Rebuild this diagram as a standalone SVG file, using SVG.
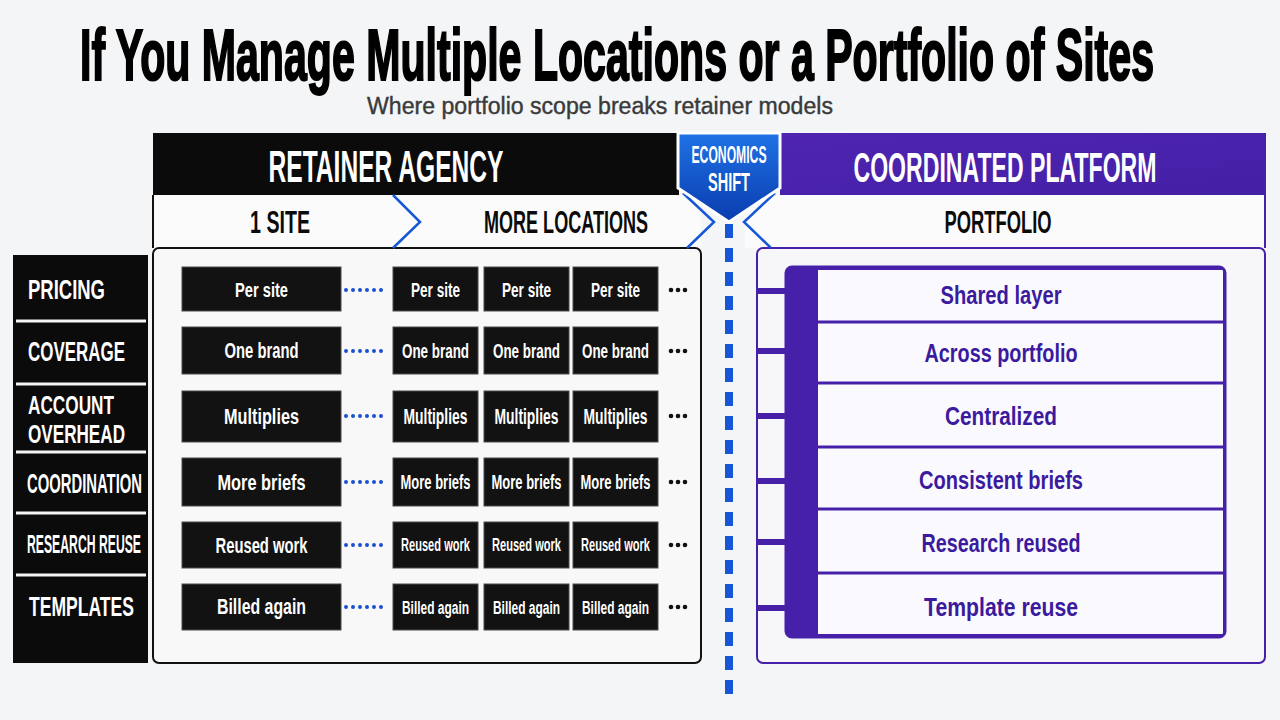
<svg xmlns="http://www.w3.org/2000/svg" width="1280" height="720" viewBox="0 0 1280 720">
<defs>
<linearGradient id="badgeG" x1="0" y1="0" x2="0" y2="1">
<stop offset="0" stop-color="#1f72e6"/>
<stop offset="1" stop-color="#0a3cae"/>
</linearGradient>
<linearGradient id="purG" x1="0" y1="0" x2="1" y2="1">
<stop offset="0" stop-color="#4e24b0"/>
<stop offset="1" stop-color="#4420a6"/>
</linearGradient>
<style>
.t{font-family:"Liberation Sans",Arial,sans-serif;font-weight:700}
.hw{fill:#ffffff;text-anchor:middle}
.hb{fill:#0b0b0b;text-anchor:middle}
.lab{fill:#ffffff}
.cell{fill:#121212;stroke:#4a4a4a;stroke-width:1}
.ct{fill:#ffffff;text-anchor:middle}
.pt{fill:#3b1a9e;text-anchor:middle}
.dot{stroke:#1a4fd0;stroke-width:4;stroke-linecap:round;stroke-dasharray:0 7}
.ell{fill:#111}
.tick{fill:#4620a8}
.chev{fill:none;stroke:#1557d6;stroke-width:2.5}
.sep{stroke:#4620a8;stroke-width:3}
</style>
</defs>
<rect x="0" y="0" width="1280" height="720" fill="#f4f5f7"/>

<g id="title">
<text class="t" transform="translate(617,80) scale(1,1.77)" font-size="41" text-anchor="middle" fill="#000" stroke="#000" stroke-width="1.2" textLength="1074" lengthAdjust="spacingAndGlyphs">If You Manage Multiple Locations or a Portfolio of Sites</text>
<text x="600" y="114" font-family="'Liberation Sans',Arial,sans-serif" font-size="23" text-anchor="middle" fill="#3a3a3a" stroke="#3a3a3a" stroke-width="0.4" textLength="466" lengthAdjust="spacingAndGlyphs">Where portfolio scope breaks retainer models</text>
</g>

<g id="retainer-header">
<rect x="153" y="133" width="526" height="62" fill="#0b0b0b"/>
<text class="t hw" transform="translate(386,182) scale(1,1.88)" font-size="23.7" textLength="235" lengthAdjust="spacingAndGlyphs">RETAINER AGENCY</text>
<rect x="153" y="195" width="548" height="53" fill="#fbfbfc"/>
<line x1="153" y1="195" x2="153" y2="248" stroke="#111" stroke-width="2"/>
<text class="t hb" transform="translate(280,233) scale(1,1.64)" font-size="19.6" textLength="60" lengthAdjust="spacingAndGlyphs">1 SITE</text>
<text class="t hb" transform="translate(566,233) scale(1,1.8)" font-size="17.5" textLength="164" lengthAdjust="spacingAndGlyphs">MORE LOCATIONS</text>
</g>

<g id="platform-header">
<rect x="780" y="133" width="485" height="62" fill="url(#purG)"/>
<text class="t hw" transform="translate(1005,182) scale(1,1.97)" font-size="22" textLength="303" lengthAdjust="spacingAndGlyphs">COORDINATED PLATFORM</text>
<rect x="745" y="195" width="520" height="53" fill="#fbfbfc"/>
<line x1="1265" y1="133" x2="1265" y2="248" stroke="#4620a8" stroke-width="2"/>
<text class="t hb" transform="translate(998,233) scale(1,1.72)" font-size="18.3" textLength="107" lengthAdjust="spacingAndGlyphs">PORTFOLIO</text>
</g>

<g id="labels">
<rect x="13" y="255" width="135" height="408" fill="#0b0b0b"/>
<g stroke="#f4f5f7" stroke-width="3">
<line x1="16" y1="321" x2="146" y2="321"/>
<line x1="16" y1="384" x2="146" y2="384"/>
<line x1="16" y1="452" x2="146" y2="452"/>
<line x1="16" y1="513" x2="146" y2="513"/>
<line x1="16" y1="575" x2="146" y2="575"/>
</g>
<text class="t lab" transform="translate(28,299) scale(1,1.51)" font-size="18.5" textLength="77" lengthAdjust="spacingAndGlyphs">PRICING</text>
<text class="t lab" transform="translate(28,361) scale(1,1.64)" font-size="17" textLength="97" lengthAdjust="spacingAndGlyphs">COVERAGE</text>
<text class="t lab" transform="translate(28,414) scale(1,1.54)" font-size="17.2" textLength="86" lengthAdjust="spacingAndGlyphs">ACCOUNT</text>
<text class="t lab" transform="translate(28,443) scale(1,1.55)" font-size="17.1" textLength="97" lengthAdjust="spacingAndGlyphs">OVERHEAD</text>
<text class="t lab" transform="translate(27,493) scale(1,1.9)" font-size="14.7" textLength="115" lengthAdjust="spacingAndGlyphs">COORDINATION</text>
<text class="t lab" transform="translate(27,553) scale(1,2.17)" font-size="12.2" textLength="114" lengthAdjust="spacingAndGlyphs">RESEARCH REUSE</text>
<text class="t lab" transform="translate(29,616) scale(1,1.61)" font-size="17.3" textLength="105" lengthAdjust="spacingAndGlyphs">TEMPLATES</text>
</g>

<g id="retainer-panel">
<rect x="153" y="248" width="548" height="415" rx="6" fill="#f8f8f9" stroke="#111" stroke-width="2"/>
</g>

<g id="row-pricing">
<rect class="cell" x="182" y="267" width="159" height="44"/>
<rect class="cell" x="393" y="267" width="85" height="44"/>
<rect class="cell" x="484" y="267" width="85" height="44"/>
<rect class="cell" x="573" y="267" width="85" height="44"/>
<g class="t ct">
<text transform="translate(261.5,297) scale(1,1.42)" font-size="14.7" textLength="53" lengthAdjust="spacingAndGlyphs">Per site</text>
<text transform="translate(435.5,297) scale(1,1.54)" font-size="13.6" textLength="49" lengthAdjust="spacingAndGlyphs">Per site</text>
<text transform="translate(526.5,297) scale(1,1.54)" font-size="13.6" textLength="49" lengthAdjust="spacingAndGlyphs">Per site</text>
<text transform="translate(615.5,297) scale(1,1.54)" font-size="13.6" textLength="49" lengthAdjust="spacingAndGlyphs">Per site</text>
</g>
</g>

<g id="row-coverage">
<rect class="cell" x="182" y="327" width="159" height="47"/>
<rect class="cell" x="393" y="327" width="85" height="47"/>
<rect class="cell" x="484" y="327" width="85" height="47"/>
<rect class="cell" x="573" y="327" width="85" height="47"/>
<g class="t ct">
<text transform="translate(261.5,358) scale(1,1.45)" font-size="14.8" textLength="74" lengthAdjust="spacingAndGlyphs">One brand</text>
<text transform="translate(435.5,358) scale(1,1.56)" font-size="13.4" textLength="67" lengthAdjust="spacingAndGlyphs">One brand</text>
<text transform="translate(526.5,358) scale(1,1.56)" font-size="13.4" textLength="67" lengthAdjust="spacingAndGlyphs">One brand</text>
<text transform="translate(615.5,358) scale(1,1.56)" font-size="13.4" textLength="67" lengthAdjust="spacingAndGlyphs">One brand</text>
</g>
</g>

<g id="row-overhead">
<rect class="cell" x="182" y="391" width="159" height="51"/>
<rect class="cell" x="393" y="391" width="85" height="51"/>
<rect class="cell" x="484" y="391" width="85" height="51"/>
<rect class="cell" x="573" y="391" width="85" height="51"/>
<g class="t ct">
<text transform="translate(261.5,424) scale(1,1.4)" font-size="16.3" textLength="75" lengthAdjust="spacingAndGlyphs">Multiplies</text>
<text transform="translate(435.5,424) scale(1,1.55)" font-size="13.9" textLength="64" lengthAdjust="spacingAndGlyphs">Multiplies</text>
<text transform="translate(526.5,424) scale(1,1.55)" font-size="13.9" textLength="64" lengthAdjust="spacingAndGlyphs">Multiplies</text>
<text transform="translate(615.5,424) scale(1,1.55)" font-size="13.9" textLength="64" lengthAdjust="spacingAndGlyphs">Multiplies</text>
</g>
</g>

<g id="row-coordination">
<rect class="cell" x="182" y="458" width="159" height="48"/>
<rect class="cell" x="393" y="458" width="85" height="48"/>
<rect class="cell" x="484" y="458" width="85" height="48"/>
<rect class="cell" x="573" y="458" width="85" height="48"/>
<g class="t ct">
<text transform="translate(261.5,490) scale(1,1.4)" font-size="16.3" textLength="88" lengthAdjust="spacingAndGlyphs">More briefs</text>
<text transform="translate(435.5,489) scale(1,1.52)" font-size="13" textLength="70" lengthAdjust="spacingAndGlyphs">More briefs</text>
<text transform="translate(526.5,489) scale(1,1.52)" font-size="13" textLength="70" lengthAdjust="spacingAndGlyphs">More briefs</text>
<text transform="translate(615.5,489) scale(1,1.52)" font-size="13" textLength="70" lengthAdjust="spacingAndGlyphs">More briefs</text>
</g>
</g>

<g id="row-research">
<rect class="cell" x="182" y="522" width="159" height="46"/>
<rect class="cell" x="393" y="522" width="85" height="46"/>
<rect class="cell" x="484" y="522" width="85" height="46"/>
<rect class="cell" x="573" y="522" width="85" height="46"/>
<g class="t ct">
<text transform="translate(261.5,553) scale(1,1.45)" font-size="14.8" textLength="92" lengthAdjust="spacingAndGlyphs">Reused work</text>
<text transform="translate(435.5,551) scale(1,1.6)" font-size="11.1" textLength="69" lengthAdjust="spacingAndGlyphs">Reused work</text>
<text transform="translate(526.5,551) scale(1,1.6)" font-size="11.1" textLength="69" lengthAdjust="spacingAndGlyphs">Reused work</text>
<text transform="translate(615.5,551) scale(1,1.6)" font-size="11.1" textLength="69" lengthAdjust="spacingAndGlyphs">Reused work</text>
</g>
</g>

<g id="row-templates">
<rect class="cell" x="182" y="584" width="159" height="46"/>
<rect class="cell" x="393" y="584" width="85" height="46"/>
<rect class="cell" x="484" y="584" width="85" height="46"/>
<rect class="cell" x="573" y="584" width="85" height="46"/>
<g class="t ct">
<text transform="translate(261.5,614) scale(1,1.42)" font-size="15.9" textLength="89" lengthAdjust="spacingAndGlyphs">Billed again</text>
<text transform="translate(435.5,614) scale(1,1.62)" font-size="11.9" textLength="67" lengthAdjust="spacingAndGlyphs">Billed again</text>
<text transform="translate(526.5,614) scale(1,1.62)" font-size="11.9" textLength="67" lengthAdjust="spacingAndGlyphs">Billed again</text>
<text transform="translate(615.5,614) scale(1,1.62)" font-size="11.9" textLength="67" lengthAdjust="spacingAndGlyphs">Billed again</text>
</g>
</g>

<g id="ellipses">
<circle class="ell" cx="671" cy="290" r="2.3"/><circle class="ell" cx="678" cy="290" r="2.3"/><circle class="ell" cx="685" cy="290" r="2.3"/>
<circle class="ell" cx="671" cy="351" r="2.3"/><circle class="ell" cx="678" cy="351" r="2.3"/><circle class="ell" cx="685" cy="351" r="2.3"/>
<circle class="ell" cx="671" cy="416" r="2.3"/><circle class="ell" cx="678" cy="416" r="2.3"/><circle class="ell" cx="685" cy="416" r="2.3"/>
<circle class="ell" cx="671" cy="482" r="2.3"/><circle class="ell" cx="678" cy="482" r="2.3"/><circle class="ell" cx="685" cy="482" r="2.3"/>
<circle class="ell" cx="671" cy="545" r="2.3"/><circle class="ell" cx="678" cy="545" r="2.3"/><circle class="ell" cx="685" cy="545" r="2.3"/>
<circle class="ell" cx="671" cy="607" r="2.3"/><circle class="ell" cx="678" cy="607" r="2.3"/><circle class="ell" cx="685" cy="607" r="2.3"/>
</g>

<g id="platform-panel">
<rect x="757" y="248" width="508" height="415" rx="6" fill="#f7f7fa" stroke="#4620a8" stroke-width="2"/>
<rect x="786" y="267" width="439" height="370" rx="6" fill="#4620a8"/>
<rect x="818" y="270" width="405" height="364" fill="#fafafe"/>
<rect x="786" y="267" width="439" height="370" rx="6" fill="none" stroke="#4620a8" stroke-width="3"/>
<line class="sep" x1="818" y1="322" x2="1225" y2="322"/>
<line class="sep" x1="818" y1="383" x2="1225" y2="383"/>
<line class="sep" x1="818" y1="447" x2="1225" y2="447"/>
<line class="sep" x1="818" y1="509" x2="1225" y2="509"/>
<line class="sep" x1="818" y1="573" x2="1225" y2="573"/>
<text class="t pt" transform="translate(1001,304) scale(1,1.25)" font-size="20.2" textLength="121" lengthAdjust="spacingAndGlyphs">Shared layer</text>
<text class="t pt" transform="translate(1001,362) scale(1,1.27)" font-size="19.8" textLength="153" lengthAdjust="spacingAndGlyphs">Across portfolio</text>
<text class="t pt" transform="translate(1001,425) scale(1,1.22)" font-size="20.8" textLength="112" lengthAdjust="spacingAndGlyphs">Centralized</text>
<text class="t pt" transform="translate(1001,489) scale(1,1.26)" font-size="20" textLength="164" lengthAdjust="spacingAndGlyphs">Consistent briefs</text>
<text class="t pt" transform="translate(1001,552) scale(1,1.28)" font-size="19.6" textLength="159" lengthAdjust="spacingAndGlyphs">Research reused</text>
<text class="t pt" transform="translate(1001,616) scale(1,1.21)" font-size="21" textLength="154" lengthAdjust="spacingAndGlyphs">Template reuse</text>
</g>

<g id="connectors">
<line class="dot" x1="346" y1="290" x2="388" y2="290"/>
<line class="dot" x1="346" y1="351" x2="388" y2="351"/>
<line class="dot" x1="346" y1="416" x2="388" y2="416"/>
<line class="dot" x1="346" y1="482" x2="388" y2="482"/>
<line class="dot" x1="346" y1="545" x2="388" y2="545"/>
<line class="dot" x1="346" y1="607" x2="388" y2="607"/>
<rect class="tick" x="757" y="288" width="29" height="6"/>
<rect class="tick" x="757" y="348" width="29" height="6"/>
<rect class="tick" x="757" y="413" width="29" height="6"/>
<rect class="tick" x="757" y="478" width="29" height="6"/>
<rect class="tick" x="757" y="539" width="29" height="6"/>
<rect class="tick" x="757" y="605" width="29" height="6"/>
<polyline class="chev" points="393,195 420,222 393,248"/>
<polyline class="chev" points="683,193 714,222 687,248"/>
<polyline class="chev" points="775,193 744,222 771,248"/>
<line x1="729" y1="224" x2="729" y2="700" stroke="#1557d6" stroke-width="8" stroke-dasharray="14 10"/>
</g>

<g id="economics-shift">
<polygon points="678,133 780,133 780,188 729,222 678,188" fill="url(#badgeG)" stroke="#ffffff" stroke-width="3" stroke-linejoin="miter"/>
<text class="t hw" transform="translate(729,163) scale(1,1.95)" font-size="12.2" textLength="75" lengthAdjust="spacingAndGlyphs">ECONOMICS</text>
<text class="t hw" transform="translate(729,191) scale(1,1.73)" font-size="14.5" textLength="42" lengthAdjust="spacingAndGlyphs">SHIFT</text>
</g>
</svg>
